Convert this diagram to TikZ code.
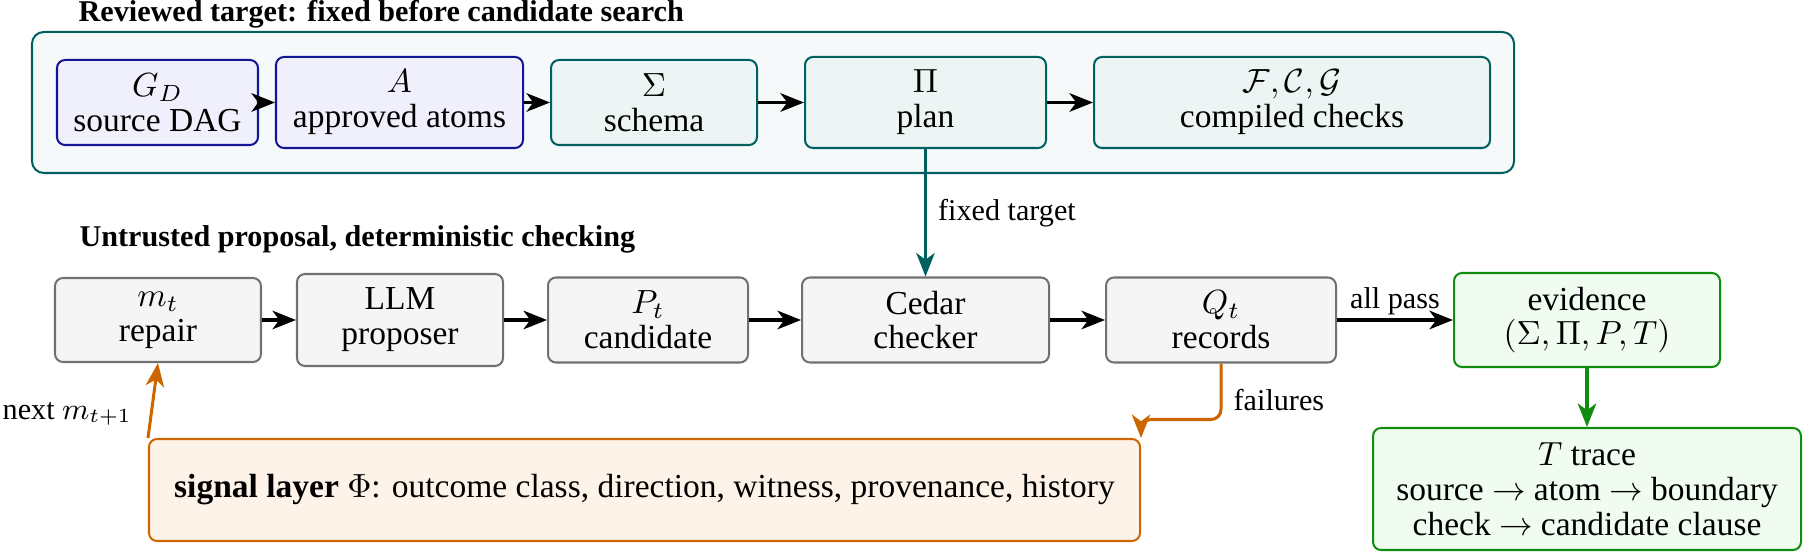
\documentclass[tikz,border=0pt]{standalone}
\usepackage[no-math]{fontspec}
\setmainfont{Liberation Serif}
\usetikzlibrary{arrows.meta}
\def\u{0.2985pt}
\definecolor{tealc}{RGB}{0,95,95}
\definecolor{tealfill}{RGB}{236,245,244}
\definecolor{outerfill}{RGB}{245,249,249}
\definecolor{navyc}{RGB}{20,20,150}
\definecolor{bluefill}{RGB}{240,240,252}
\definecolor{grayc}{RGB}{112,112,112}
\definecolor{grayfill}{RGB}{245,245,245}
\definecolor{greenc}{RGB}{16,140,16}
\definecolor{greenfill}{RGB}{240,252,240}
\definecolor{orangec}{RGB}{204,102,0}
\definecolor{orangefill}{RGB}{254,243,232}
\tikzset{
  basebox/.style={draw, rounded corners=2.4pt, line width=0.6pt, inner sep=0pt, align=center, font=\fontsize{10}{10.4}\selectfont},
  bluebox/.style={basebox, draw=navyc, fill=bluefill},
  tealbox/.style={basebox, draw=tealc, fill=tealfill},
  graybox/.style={basebox, draw=grayc, fill=grayfill},
  greenbox/.style={basebox, draw=greenc, fill=greenfill},
  orangebox/.style={basebox, draw=orangec, fill=orangefill},
  outerbox/.style={draw=tealc, fill=outerfill, rounded corners=3.5pt, line width=0.6pt, inner sep=0pt},
  titletext/.style={font=\small\bfseries, inner sep=0pt, text=black},
  lab/.style={font=\small, text=black},
  arr/.style={-{Stealth[length=7pt,width=5.5pt,inset=2pt]}, line width=1.1pt, black},
  tealarr/.style={-{Stealth[length=7pt,width=5.5pt,inset=2pt]}, line width=0.9pt, tealc},
  orarr/.style={-{Stealth[length=7pt,width=5.5pt,inset=2pt]}, line width=0.9pt, orangec},
  grarr/.style={-{Stealth[length=7pt,width=5.5pt,inset=2pt]}, line width=1.1pt, greenc},
}
\begin{document}
\begin{tikzpicture}[x=0.2985pt, y=-0.2985pt]
\useasboundingbox (0,0) rectangle (1803,552);
% top group
\node[outerbox, minimum width=1482*\u, minimum height=141*\u] (outer) at (773,102.5) {};
\node[titletext, anchor=base west] (t1) at (78,22) {Reviewed target: fixed before candidate search};
\node[bluebox, minimum width=201*\u, minimum height=85*\u] (GD) at (157.5,102.5) {$G_D$\\source DAG};
\node[bluebox, minimum width=247*\u, minimum height=91*\u] (A) at (399.5,102.5) {$A$\\approved atoms};
\node[tealbox, minimum width=206*\u, minimum height=85*\u] (S) at (654,102.5) {$\Sigma$\\schema};
\node[tealbox, minimum width=241*\u, minimum height=91*\u] (Pi) at (925.5,102.5) {$\Pi$\\plan};
\node[tealbox, minimum width=396*\u, minimum height=91*\u] (F) at (1292,102.5) {$\mathcal{F},\mathcal{C},\mathcal{G}$\\compiled checks};
\draw[arr] (GD) -- (A);
\draw[arr] (A) -- (S);
\draw[arr] (S) -- (Pi);
\draw[arr] (Pi) -- (F);
% bottom row
\node[titletext, anchor=base west] (t2) at (79,247) {Untrusted proposal, deterministic checking};
\node[graybox, minimum width=206*\u, minimum height=84*\u] (m) at (158,320) {$m_t$\\repair};
\node[graybox, minimum width=206*\u, minimum height=92*\u] (L) at (400,320) {LLM\\proposer};
\node[graybox, minimum width=200*\u, minimum height=85*\u] (P) at (648,320) {$P_t$\\candidate};
\node[graybox, minimum width=247*\u, minimum height=85*\u] (C) at (925.5,320) {Cedar\\checker};
\node[graybox, minimum width=230*\u, minimum height=85*\u] (Q) at (1221,320) {$Q_t$\\records};
\node[greenbox, minimum width=266*\u, minimum height=94*\u] (ev) at (1587,320) {evidence\\$(\Sigma,\Pi,P,T)$};
\node[greenbox, minimum width=428*\u, minimum height=122*\u] (tr) at (1587,489) {$T$ trace\\source $\rightarrow$ atom $\rightarrow$ boundary\\check $\rightarrow$ candidate clause};
\node[orangebox, minimum width=991*\u, minimum height=102*\u] (sig) at (644.5,490) {\textbf{signal layer} $\Phi$: outcome class, direction, witness, provenance, history};
\draw[arr] (m) -- (L);
\draw[arr] (L) -- (P);
\draw[arr] (P) -- (C);
\draw[arr] (C) -- (Q);
\draw[arr] (Q) -- node[lab, above, yshift=-2.5pt] {all pass} (ev);
\draw[tealarr] (Pi.south) -- node[lab, right] {fixed target} (C.north);
\draw[grarr] (ev) -- (tr);
\draw[orarr, rounded corners=3pt] (Q.south) -- node[lab, right, pos=0.66] {failures} ++(0,56) -| (sig.north east);
\draw[orarr] (sig.north west) -- node[lab, left, pos=0.32, xshift=-2pt] {next $m_{t+1}$} (m.south);
\end{tikzpicture}
\end{document}
